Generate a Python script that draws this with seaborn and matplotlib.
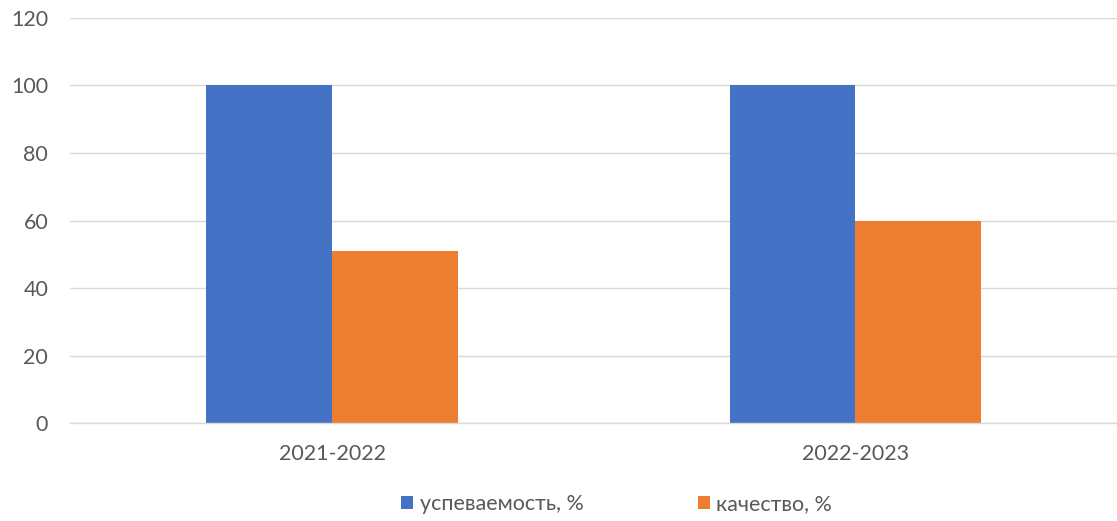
import matplotlib
matplotlib.use("Agg")
import matplotlib.pyplot as plt
import seaborn as sns
import pandas as pd

years = ["2021-2022", "2022-2023"]
series_names = ["успеваемость, %", "качество, %"]
uspevaemost = [100, 100]
kachestvo = [51, 60]
colors = ["#4472C4", "#ED7D31"]

df = pd.DataFrame({
    "year": years * 2,
    "series": [series_names[0]] * 2 + [series_names[1]] * 2,
    "value": uspevaemost + kachestvo,
})

sns.set_theme(style="white")
plt.rcParams["font.family"] = ["Lato", "DejaVu Sans"]

fig = plt.figure(figsize=(11.17, 5.21), dpi=100)
ax = fig.add_axes([0.063, 0.188, 0.937, 0.7775])

sns.barplot(data=df, x="year", y="value", hue="series", palette=colors,
            width=0.48, ax=ax, saturation=1, legend=True, linewidth=0)

ax.set_ylim(0, 120)
ax.set_yticks(range(0, 121, 20))
ax.set_xlim(-0.5, 1.5)
ax.yaxis.grid(True, color="#D9D9D9", linewidth=1)
ax.set_axisbelow(True)
for s in ["top", "right", "left"]:
    ax.spines[s].set_visible(False)
ax.spines["bottom"].set_color("#D9D9D9")
ax.spines["bottom"].set_linewidth(1)
ax.set_xlabel("")
ax.set_ylabel("")
ax.tick_params(axis="both", length=0, labelsize=15.5, colors="#595959")
ax.tick_params(axis="y", pad=16)
ax.tick_params(axis="x", pad=15)

handles, labels = ax.get_legend_handles_labels()
ax.get_legend().remove()
leg = fig.legend(handles, labels, loc="center left", bbox_to_anchor=(0.342, 0.033),
                 ncol=2, frameon=False, fontsize=15.5, handlelength=0.55,
                 handleheight=0.55, handletextpad=0.3, columnspacing=5.3)
for t in leg.get_texts():
    t.set_color("#595959")

fig.savefig("out.png", dpi=100)
